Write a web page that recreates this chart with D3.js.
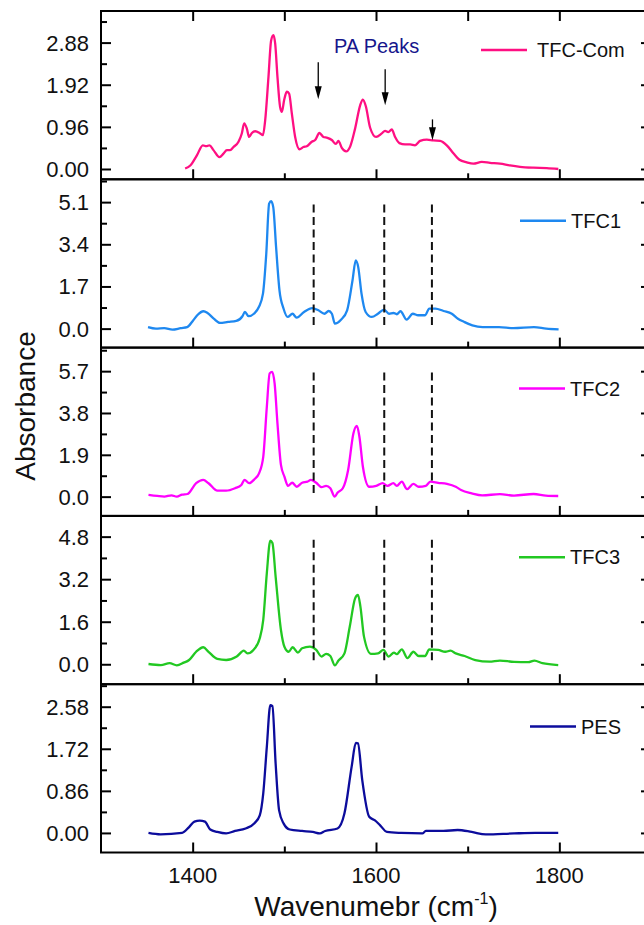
<!DOCTYPE html>
<html><head><meta charset="utf-8">
<script src="https://cdn.jsdelivr.net/npm/d3@7"></script>
<style>html,body{margin:0;padding:0;background:#fff;}svg{display:block;font-family:"Liberation Sans",Arial,sans-serif;}</style>
</head><body>
<svg id="chart" width="644" height="925"></svg>
<script>
// ---------- data ----------
const seriesNames = ["TFC-Com","TFC1","TFC2","TFC3","PES"];
const seriesColors = ["#ff0f82","#1e88f0","#ff00ff","#22c822","#0c0c9c"];
const tickSteps = [0.96, 1.7, 1.9, 1.6, 0.86];
const tickDecimals = [2, 1, 1, 1, 2];
const yMin = [-0.235, -0.765, -0.875, -0.75, -0.40];
const yMax = [3.6, 6.02, 6.77, 5.58, 3.04];
const xTicks = [1400, 1600, 1800];

const wnCom = [1391.8,1397.4,1404.6,1411.1,1414.7,1418.3,1422.7,1429.2,1433.6,1437.3,1440.9,1444.5,1450,1453.6,1456.2,1459.1,1461.6,1464.6,1468.2,1473.6,1476.6,1479.1,1482.7,1485.6,1488.1,1490,1492.5,1495.4,1497.3,1499.8,1502.7,1505.2,1508.2,1511.8,1516.5,1520.8,1524.5,1530,1533.6,1538.3,1542.6,1547,1551.8,1556.2,1559,1562.7,1567.4,1571.8,1577.2,1582.7,1585.6,1588.9,1593.6,1600.1,1606.3,1609.9,1613.5,1617.2,1620.8,1625.5,1631.7,1637.2,1642.6,1648.1,1655.4,1662.6,1669.9,1677.2,1684.4,1691,1699,1706.2,1715.4,1724.4,1735.3,1746.2,1757.1,1771.6,1786.3,1798.9];
const absCom = [0.01,0.08,0.31,0.54,0.52,0.54,0.43,0.27,0.35,0.43,0.43,0.50,0.62,0.81,1.04,0.92,0.73,0.82,0.86,0.81,0.77,1.11,2.10,2.93,3.05,2.86,2.10,1.41,1.30,1.57,1.76,1.72,1.26,0.73,0.45,0.50,0.52,0.62,0.66,0.82,0.73,0.71,0.66,0.57,0.64,0.48,0.40,0.51,0.92,1.45,1.58,1.43,0.94,0.73,0.81,0.87,0.84,0.90,0.73,0.59,0.56,0.56,0.54,0.64,0.67,0.65,0.64,0.54,0.36,0.21,0.15,0.12,0.16,0.14,0.12,0.08,0.05,0.03,0.02,0.00];

const wn1 = [1351.3,1360,1369,1378,1387,1394,1400.5,1405,1411.8,1416.2,1423,1429.7,1438.6,1447.6,1454.3,1457,1461,1466.8,1472.2,1476.7,1480.3,1483.4,1485.6,1487.9,1491,1494.7,1499.1,1503.6,1508.9,1513.4,1521.5,1530.4,1537.2,1543.8,1548.3,1551.9,1555.1,1561.8,1568.5,1574.4,1577.9,1580.6,1584.2,1588.7,1595.4,1602.1,1608.8,1614.2,1619.1,1622.7,1626.7,1633.5,1640.2,1645.9,1653.6,1658.1,1664.8,1673.7,1682.7,1689.4,1696.2,1705.1,1716.3,1734.2,1749.9,1772.3,1785.7,1799.2];
const abs1 = [0.06,0.0,0.02,-0.04,0.02,0.06,0.33,0.54,0.70,0.63,0.40,0.23,0.27,0.31,0.50,0.67,0.50,0.60,0.87,1.41,3.02,5.04,5.14,4.90,3.29,1.54,0.81,0.47,0.60,0.44,0.67,0.83,0.74,0.60,0.71,0.60,0.20,0.36,0.74,1.95,2.75,2.48,1.41,0.67,0.47,0.60,0.77,0.60,0.63,0.58,0.70,0.36,0.60,0.54,0.54,0.81,0.81,0.71,0.60,0.40,0.27,0.13,0.06,0.06,0.02,0.06,0.0,-0.03];

const wn2 = [1351.8,1361.4,1369.1,1376.9,1382.7,1388.4,1394.2,1403.8,1411.5,1417.3,1427,1436.5,1446.2,1453.1,1456.6,1461.6,1467.4,1472.4,1477,1480.9,1484,1486.7,1489.4,1492.5,1496.3,1500.1,1504,1508.6,1513.6,1519.4,1525.2,1529,1534.8,1540.6,1545.6,1550.2,1554.9,1558,1563.8,1569.6,1575.4,1579.2,1581.9,1585.7,1592.6,1600.3,1607.3,1612.6,1618.9,1622.7,1628.1,1633.9,1640.8,1646.6,1654.3,1659.3,1667.8,1677.4,1687,1692.8,1704.4,1715.9,1735.2,1750.6,1771.9,1785.3,1798.8];
const abs2 = [0.08,0.03,0.0,0.06,0.0,0.09,0.12,0.61,0.76,0.61,0.27,0.27,0.38,0.53,0.76,0.61,0.79,1.06,1.81,4.08,5.60,5.67,5.14,3.33,1.44,0.91,0.49,0.63,0.45,0.63,0.68,0.76,0.63,0.43,0.49,0.38,0.0,0.18,0.38,1.21,2.88,3.21,2.72,1.36,0.45,0.49,0.61,0.49,0.61,0.49,0.68,0.34,0.58,0.45,0.49,0.68,0.63,0.58,0.45,0.30,0.15,0.06,0.11,0.05,0.12,0.05,0.03];

const wn3 = [1351.8,1365.3,1374.9,1382.7,1390.3,1396.1,1403.8,1411.6,1417.3,1426.9,1436.5,1448.1,1455.8,1459.7,1466.3,1473.2,1477,1480.9,1484.7,1487,1490.5,1496.3,1500.1,1504.8,1509,1514.8,1519.4,1527.9,1534.8,1540.6,1545.6,1550.2,1555.2,1559.1,1565.6,1571.4,1577.2,1580.3,1583,1586.9,1594.6,1602.3,1608.1,1613.8,1619.6,1622.7,1628.1,1634.3,1640.8,1646.6,1653.5,1658.1,1667.8,1675.5,1681.3,1687,1696.7,1708.3,1723.7,1735.2,1750.6,1766.1,1772.9,1781.5,1798.8];
const abs3 = [0.01,-0.03,0.04,-0.04,0.06,0.16,0.47,0.64,0.47,0.20,0.16,0.29,0.51,0.41,0.54,0.98,1.67,3.43,4.65,4.56,3.30,1.29,0.66,0.47,0.64,0.44,0.60,0.66,0.54,0.29,0.39,0.31,-0.04,0.14,0.41,1.42,2.48,2.61,2.17,1.04,0.39,0.41,0.54,0.29,0.44,0.38,0.56,0.23,0.47,0.31,0.31,0.56,0.54,0.47,0.51,0.41,0.31,0.16,0.10,0.14,0.09,0.08,0.14,0.04,-0.03];

const wnP = [1351.8,1365,1388.4,1396.1,1401.9,1407.7,1413.4,1419.2,1426.9,1436.5,1446.2,1457.7,1467.4,1473.2,1477,1480.9,1484.7,1487,1490.5,1494.3,1499.3,1505.9,1519.4,1531,1538.7,1544.5,1558,1565.6,1573.4,1578,1580.3,1585,1592.6,1598.5,1604.3,1611.9,1627.4,1650.5,1654.4,1673.6,1689,1704.4,1719.8,1750.6,1773.7,1798.8];
const absP = [0,-0.03,0,0.12,0.23,0.25,0.23,0.07,0.02,-0.01,0.04,0.09,0.20,0.36,0.81,1.76,2.61,2.59,1.42,0.46,0.19,0.07,0.04,0.02,-0.01,0.04,0.09,0.40,1.35,1.84,1.83,1.08,0.33,0.26,0.16,0.02,0,-0.01,0.04,0.04,0.06,0.02,-0.03,-0.01,0,0];

const wnAll = [wnCom, wn1, wn2, wn3, wnP];
const absAll = [absCom, abs1, abs2, abs3, absP];

// PA peak markers
const arrowX = [1537, 1610, 1661.6];
const arrowFrom = [2.43, 2.27, 1.13];
const arrowTo = [1.59, 1.45, 0.655];
const dashX = [1532, 1609, 1661];
const dashTop = [null, 5.0, 5.64, 4.68, null];
const dashBottom = 0.05;
const annotationText = "PA Peaks";

// ---------- layout ----------
const svg = d3.select("#chart");
const left = 101, right = 651;
const panelTop = 11, panelH = 168.3, nP = 5;
const font = '"Liberation Sans", Arial, sans-serif';
const x = d3.scaleLinear().domain([1300, 1900]).range([left, right]);

const legendTextX = [537, 571, 570, 570, 581];
const legendGap = [10, 5, 5, 5, 5];
const legendDy = [39, 41.5, 41, 41.3, 42.4];

for (let i = 0; i < nP; i++) {
  const top = panelTop + i * panelH, bot = top + panelH;
  const y = d3.scaleLinear().domain([yMin[i], yMax[i]]).range([bot, top]);
  const g = svg.append("g");

  // curve
  const pts = wnAll[i].map((w, k) => [w, absAll[i][k]]);
  g.append("path").datum(pts)
    .attr("fill", "none").attr("stroke", seriesColors[i]).attr("stroke-width", 2.3)
    .attr("stroke-linejoin", "round")
    .attr("d", d3.line().x(d => x(d[0])).y(d => y(d[1])).curve(d3.curveMonotoneX));

  // dashed lines
  if (dashTop[i] !== null) {
    dashX.forEach(dx => {
      g.append("line").attr("x1", x(dx)).attr("x2", x(dx))
        .attr("y1", y(dashTop[i])).attr("y2", y(dashBottom))
        .attr("stroke", "#111").attr("stroke-width", 2).attr("stroke-dasharray", "8,4.5");
    });
  }

  // y ticks
  const step = tickSteps[i];
  const major = [0, 1, 2, 3].map(k => +(k * step).toFixed(4));
  const minor = [];
  for (let k = -3; k <= 9; k++) {
    const v = k * step / 2;
    if (k % 2 !== 0 && v > yMin[i] && v < yMax[i]) minor.push(v);
  }
  const leftAx = d3.axisRight(y).tickValues(major).tickSize(10).tickFormat("");
  const leftMin = d3.axisRight(y).tickValues(minor).tickSize(6).tickFormat("");
  const rightAx = d3.axisLeft(y).tickValues(major).tickSize(10).tickFormat("");
  const rightMin = d3.axisLeft(y).tickValues(minor).tickSize(6).tickFormat("");
  [[leftAx, left], [leftMin, left], [rightAx, right], [rightMin, right]].forEach(([ax, px]) => {
    const a = g.append("g").attr("transform", `translate(${px},0)`).call(ax);
    a.select(".domain").remove();
    a.selectAll("line").attr("stroke", "#000").attr("stroke-width", 2);
  });
  // y tick labels
  g.selectAll(".ylab").data(major).enter().append("text")
    .attr("x", 89).attr("y", d => y(d)).attr("dy", "0.36em")
    .attr("text-anchor", "end").attr("font-size", 22).attr("fill", "#111")
    .style("font-family", font)
    .text(d => d.toFixed(tickDecimals[i]));

  // x ticks (bottom of every panel, top of first panel)
  const xb = d3.axisTop(x).tickValues(xTicks).tickSize(10).tickFormat("");
  const xbm = d3.axisTop(x).tickValues([1500, 1700]).tickSize(6).tickFormat("");
  [xb, xbm].forEach(ax => {
    const a = g.append("g").attr("transform", `translate(0,${bot})`).call(ax);
    a.select(".domain").remove();
    a.selectAll("line").attr("stroke", "#000").attr("stroke-width", 2);
  });
  if (i === 0) {
    const xt = d3.axisBottom(x).tickValues([1400, 1500, 1600, 1700, 1800]).tickSize(10).tickFormat("");
    const a = g.append("g").attr("transform", `translate(0,${top})`).call(xt);
    a.select(".domain").remove();
    a.selectAll("line").attr("stroke", "#000").attr("stroke-width", 2);
  }

  // frame
  g.append("rect").attr("x", left).attr("y", top).attr("width", right - left).attr("height", panelH)
    .attr("fill", "none").attr("stroke", "#000").attr("stroke-width", 2);

  // legend
  const ly = top + legendDy[i];
  const tx = legendTextX[i];
  g.append("line").attr("x1", tx - legendGap[i] - 46).attr("x2", tx - legendGap[i])
    .attr("y1", ly).attr("y2", ly).attr("stroke", seriesColors[i]).attr("stroke-width", 2.5);
  g.append("text").attr("x", tx).attr("y", ly + 7).attr("font-size", 20).attr("fill", "#111")
    .style("font-family", font).text(seriesNames[i]);

  // arrows + annotation on the first panel
  if (i === 0) {
    arrowX.forEach((ax, k) => {
      const xx = x(ax), y0 = y(arrowFrom[k]), y1 = y(arrowTo[k]);
      g.append("line").attr("x1", xx).attr("x2", xx).attr("y1", y0).attr("y2", y1 - 10)
        .attr("stroke", "#000").attr("stroke-width", 1.3);
      g.append("path").attr("d", `M${xx - 3.5},${y1 - 13}L${xx + 3.5},${y1 - 13}L${xx},${y1}Z`).attr("fill", "#000");
    });
    g.append("text").attr("x", 334).attr("y", 52.7).attr("font-size", 20).attr("fill", "#16168c")
      .style("font-family", font).text(annotationText);
  }
}

// x tick labels
const bottom = panelTop + nP * panelH;
svg.selectAll(".xlab").data(xTicks).enter().append("text")
  .attr("x", d => x(d)).attr("y", bottom + 30).attr("text-anchor", "middle")
  .attr("font-size", 22).attr("fill", "#111").style("font-family", font).text(d => d);

// axis titles
const xt = svg.append("text").attr("x", x(1600)).attr("y", 916).attr("text-anchor", "middle")
  .attr("font-size", 28).attr("fill", "#111").style("font-family", font);
xt.append("tspan").text("Wavenumebr (cm");
xt.append("tspan").attr("font-size", 16).attr("dy", -12).text("-1");
xt.append("tspan").attr("dy", 12).text(")");

svg.append("text").attr("transform", "translate(35,406) rotate(-90)").attr("text-anchor", "middle")
  .attr("font-size", 28).attr("fill", "#111").style("font-family", font).text("Absorbance");
</script>
</body></html>
